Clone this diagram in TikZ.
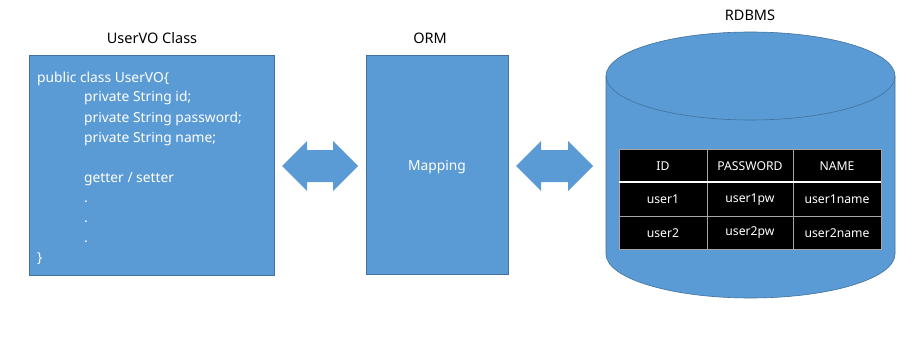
\documentclass[tikz,border=0pt]{standalone}
\usepackage{fontspec}
\setmainfont{Noto Sans}
\definecolor{boxblue}{HTML}{5B9BD5}
\definecolor{edgeblue}{HTML}{41719C}
\definecolor{gridgray}{HTML}{A6A6A6}
\begin{document}
\begin{tikzpicture}[x=1pt,y=1pt,
  blockbox/.style={fill=boxblue,draw=edgeblue,line width=0.6pt,inner sep=0pt,anchor=north west},
  title/.style={font=\fontsize{14.5}{17}\selectfont,text=black,inner sep=0pt},
  code/.style={font=\fontsize{13.8}{16}\selectfont,text=white,inner sep=0pt,anchor=base west},
  cell/.style={font=\fontsize{12.2}{14}\selectfont,text=white,inner sep=0pt},
  dblarrow/.style={fill=boxblue,draw=none}]
\useasboundingbox (0,0) rectangle (916,-337);
% titles
\node[title] (t1) at (152,-38) {UserVO Class};
\node[title] (t2) at (430,-38) {ORM};
\node[title] (t3) at (750,-15) {RDBMS};
% left box
\node[blockbox,minimum width=245pt,minimum height=220pt] (vo) at (29,-55) {};
\node[code] (l1) at (37,-82) {public class UserVO\{};
\node[code] (l2) at (84,-102) {private String id;};
\node[code] (l3) at (84,-122) {private String password;};
\node[code] (l4) at (84,-142) {private String name;};
\node[code] (l5) at (84,-182) {getter / setter};
\node[code] (l6) at (84,-202) {.};
\node[code] (l7) at (84,-222) {.};
\node[code] (l8) at (84,-242) {.};
\node[code] (l9) at (37,-262) {\}};
% mapping box
\node[blockbox,minimum width=142pt,minimum height=219pt] (orm) at (366,-55) {};
\node[code,anchor=center] (map) at (437,-167) {Mapping};
% double arrows
\fill[dblarrow] (282,-166) -- (307,-141) -- (307,-150) -- (333,-150) -- (333,-141) -- (358,-166)
  -- (333,-191) -- (333,-182) -- (307,-182) -- (307,-191) -- cycle;
\fill[dblarrow] (516,-166) -- (541,-141) -- (541,-150) -- (568,-150) -- (568,-141) -- (593,-166)
  -- (568,-191) -- (568,-182) -- (541,-182) -- (541,-191) -- cycle;
% cylinder
\filldraw[fill=boxblue,draw=edgeblue,line width=0.6pt] (606,-76) -- (606,-254)
  arc[start angle=180,end angle=360,x radius=144.5,y radius=44] -- (895,-76)
  arc[start angle=0,end angle=180,x radius=144.5,y radius=44] -- cycle;
\draw[edgeblue,line width=0.6pt] (606,-76) arc[start angle=180,end angle=360,x radius=144.5,y radius=44];
% table
\fill[black] (619,-149) rectangle (881,-249);
\draw[gridgray,line width=0.8pt] (619,-149) rectangle (881,-249);
\draw[gridgray,line width=0.8pt] (707,-149) -- (707,-249) (793,-149) -- (793,-249) (619,-216) -- (881,-216);
\draw[white,line width=2pt] (619,-182) -- (881,-182);
\node[cell] (h1) at (663,-166) {ID};
\node[cell] (h2) at (750,-166) {PASSWORD};
\node[cell] (h3) at (837,-166) {NAME};
\node[cell] (a1) at (663,-199.5) {user1};
\node[cell] (a2) at (750,-199.5) {user1pw};
\node[cell] (a3) at (837,-199.5) {user1name};
\node[cell] (b1) at (663,-233) {user2};
\node[cell] (b2) at (750,-233) {user2pw};
\node[cell] (b3) at (837,-233) {user2name};
\end{tikzpicture}
\end{document}
